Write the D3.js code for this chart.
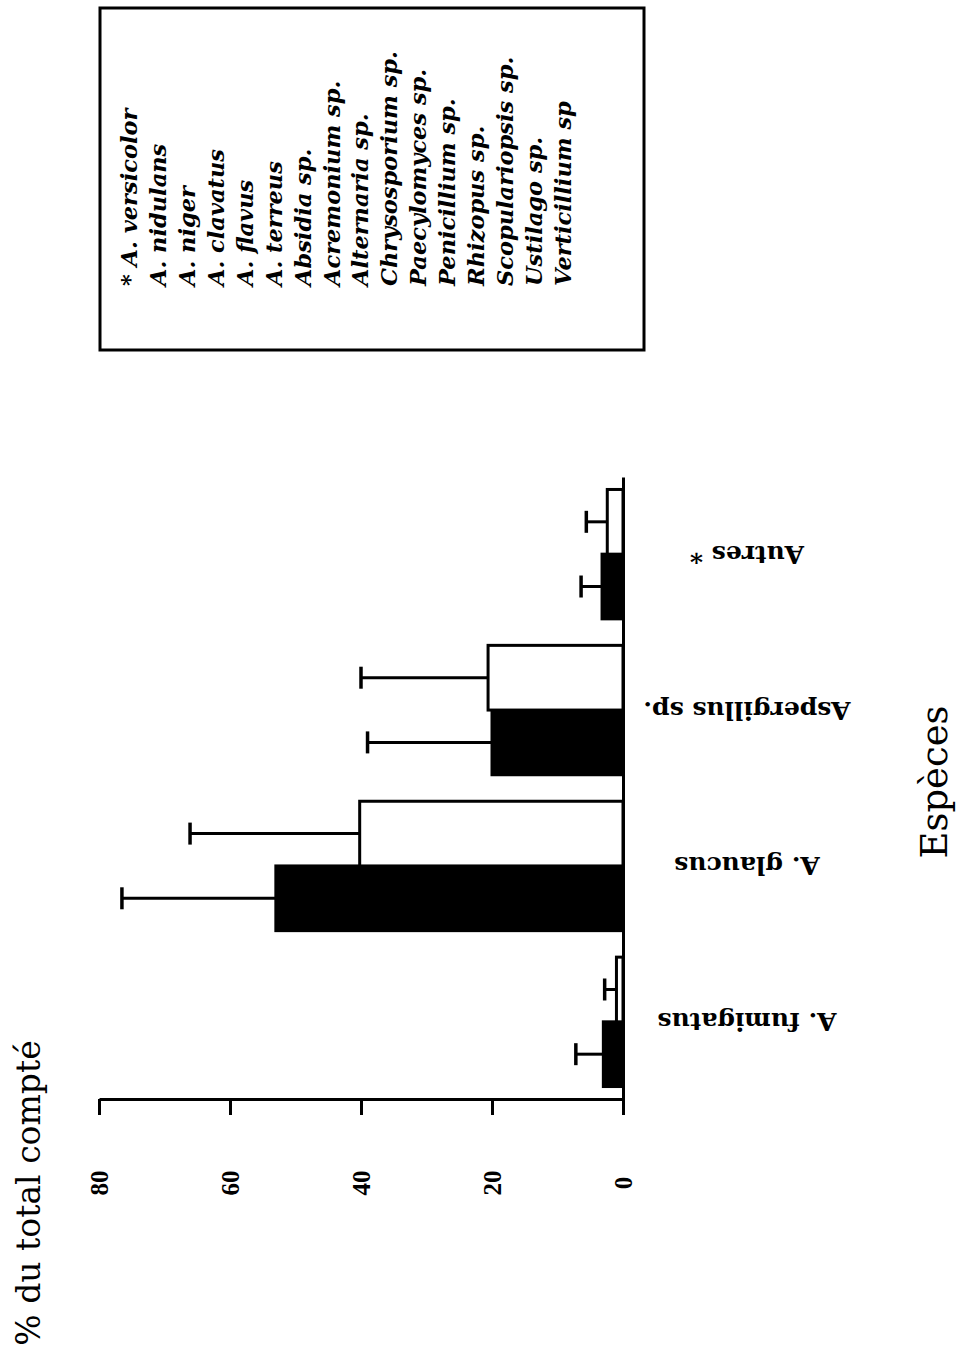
<!DOCTYPE html>
<meta charset="utf-8">
<style>
  body { margin: 0; background: white; }
</style>
<!-- Load d3.js -->
<script src="https://d3js.org/d3.v7.min.js"></script>
<div id="my_div"></div>

<script>
    // categories, from the bottom of the page to the top
    var categories = ["A. fumigatus", "A. glaucus", "Aspergillus sp.", "Autres *"];

    // black bars and their error bars (% du total compté)
    var blackValues = [3.0, 53.0, 20.0, 3.2];
    var blackErrors = [4.2, 23.5, 19.0, 3.2];

    // white bars and their error bars
    var whiteValues = [1.0, 40.2, 20.6, 2.4];
    var whiteErrors = [1.8, 25.9, 19.4, 3.2];

    // value axis ticks
    var tickValues = [0, 20, 40, 60, 80];

    // legend box content
    var legendItems = ["* A. versicolor", "A. nidulans", "A. niger", "A. clavatus", "A. flavus",
      "A. terreus", "Absidia sp.", "Acremonium sp.", "Alternaria sp.", "Chrysosporium sp.",
      "Paecylomyces sp.", "Penicillium sp.", "Rhizopus sp.", "Scopulariopsis sp.",
      "Ustilago sp.", "Verticillium sp"];

    var W = 962, H = 1360;
    var serif = "'DejaVu Serif', 'Liberation Serif', serif";

    var svg = d3.select("#my_div")
      .append("svg")
        .attr("width", W)
        .attr("height", H)
        .style("background", "white");

    // the whole graph is turned on its side: values run right to left
    var x = d3.scaleLinear()
      .domain([0, 80])
      .range([623, 99]);

    var y = d3.scaleBand()
      .domain(categories)
      .range([1099, 477])
      .paddingInner(0.17)
      .paddingOuter(0.08);

    // black bar below, white bar above inside each group
    var ySub = d3.scaleBand()
      .domain(["noir", "blanc"])
      .range([y.bandwidth(), 0]);

    // build rows from the arrays
    var rows = [];
    categories.forEach(function(c, i) {
      rows.push({cat: c, serie: "noir", value: blackValues[i], err: blackErrors[i]});
      rows.push({cat: c, serie: "blanc", value: whiteValues[i], err: whiteErrors[i]});
    });

    // value axis (horizontal, at the bottom of the plot)
    var xAxis = svg.append("g")
      .attr("transform", "translate(0,1099)")
      .call(d3.axisBottom(x).tickValues(tickValues).tickSize(16).tickSizeOuter(0));
    xAxis.select(".domain").attr("stroke-width", 3);
    xAxis.selectAll(".tick line").attr("stroke-width", 3);
    xAxis.selectAll(".tick text")
      .attr("y", null)
      .attr("dy", null)
      .attr("transform", "translate(0,84) rotate(-90)")
      .attr("text-anchor", "middle")
      .attr("dominant-baseline", "central")
      .style("font-family", "'Liberation Serif', serif")
      .style("font-weight", "bold")
      .style("font-size", "25px")
      .attr("fill", "black");

    // category axis (vertical line), labels upside down
    var yAxis = svg.append("g")
      .attr("transform", "translate(623,0)")
      .call(d3.axisRight(y).tickSize(0).tickSizeOuter(0));
    yAxis.select(".domain").attr("stroke-width", 3);
    yAxis.selectAll(".tick text")
      .attr("x", null)
      .attr("dy", null)
      .attr("transform", "translate(124,0) rotate(180)")
      .attr("text-anchor", "middle")
      .attr("dominant-baseline", "central")
      .style("font-family", serif)
      .style("font-weight", "bold")
      .style("font-size", "25px")
      .attr("fill", "black");

    // error bars
    var errs = svg.selectAll(".err")
      .data(rows)
      .enter()
      .append("g")
        .attr("class", "err")
        .attr("transform", function(d) {
          return "translate(0," + (y(d.cat) + ySub(d.serie) + ySub.bandwidth() / 2) + ")";
        });
    errs.append("line")
      .attr("x1", function(d) { return x(d.value); })
      .attr("x2", function(d) { return x(d.value + d.err); })
      .attr("stroke", "black")
      .attr("stroke-width", 3);
    errs.append("line")
      .attr("x1", function(d) { return x(d.value + d.err); })
      .attr("x2", function(d) { return x(d.value + d.err); })
      .attr("y1", -11)
      .attr("y2", 11)
      .attr("stroke", "black")
      .attr("stroke-width", 3.5);

    // bars
    svg.selectAll(".bar")
      .data(rows)
      .enter()
      .append("rect")
        .attr("class", "bar")
        .attr("x", function(d) { return x(d.value); })
        .attr("y", function(d) { return y(d.cat) + ySub(d.serie); })
        .attr("width", function(d) { return x(0) - x(d.value); })
        .attr("height", ySub.bandwidth())
        .attr("fill", function(d) { return d.serie == "noir" ? "black" : "white"; })
        .attr("stroke", "black")
        .attr("stroke-width", 3);

    // axis titles
    svg.append("text")
      .attr("transform", "translate(28,1193) rotate(-90)")
      .attr("text-anchor", "middle")
      .attr("dominant-baseline", "central")
      .style("font-family", serif)
      .style("font-size", "33px")
      .text("% du total compté");

    svg.append("text")
      .attr("transform", "translate(934,782) rotate(-90)")
      .attr("text-anchor", "middle")
      .attr("dominant-baseline", "central")
      .style("font-family", serif)
      .style("font-size", "37px")
      .text("Espèces");

    // legend box
    svg.append("rect")
      .attr("x", 100)
      .attr("y", 8)
      .attr("width", 544)
      .attr("height", 342)
      .attr("fill", "none")
      .attr("stroke", "black")
      .attr("stroke-width", 3);

    var lx = d3.scalePoint()
      .domain(legendItems)
      .range([129, 563]);

    svg.selectAll(".leg")
      .data(legendItems)
      .enter()
      .append("text")
        .attr("class", "leg")
        .attr("transform", function(d) { return "translate(" + lx(d) + ",286) rotate(-90)"; })
        .attr("text-anchor", "start")
        .attr("dominant-baseline", "central")
        .style("font-family", serif)
        .style("font-style", "italic")
        .style("font-weight", "bold")
        .style("font-size", "22.5px")
        .text(function(d) { return d; });
</script>
